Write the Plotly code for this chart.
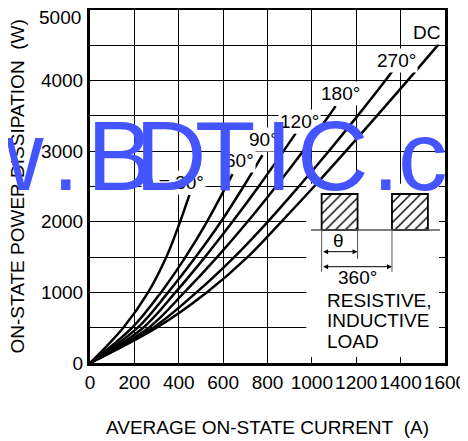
import plotly.graph_objects as go

# ---- data ----
curve_labels = ["θ = 30°", "60°", "90°", "120°", "180°", "270°", "DC"]

I_30 = [0, 150, 262, 344, 406, 448]
P_30 = [0, 500, 1000, 1500, 2000, 2380]

I_60 = [0, 190, 320, 430, 527, 613, 642]
P_60 = [0, 500, 1000, 1500, 2000, 2500, 2676]

I_90 = [0, 215, 352, 476, 590, 692, 777]
P_90 = [0, 500, 1000, 1500, 2000, 2500, 2945]

I_120 = [0, 240, 385, 518, 642, 760, 872, 927]
P_120 = [0, 500, 1000, 1500, 2000, 2500, 3000, 3252]

I_180 = [0, 265, 425, 573, 710, 838, 960, 1076, 1107]
P_180 = [0, 500, 1000, 1500, 2000, 2500, 3000, 3500, 3639]

I_270 = [0, 285, 480, 650, 801, 941, 1076, 1206, 1331, 1364]
P_270 = [0, 500, 1000, 1500, 2000, 2500, 3000, 3500, 4000, 4139]

I_DC = [0, 300, 526, 710, 862, 1010, 1153, 1293, 1431, 1572]
P_DC = [0, 500, 1000, 1500, 2000, 2500, 3000, 3500, 4000, 4517]

label_x = [525, 672, 780, 946, 1127, 1380, 1518]
label_y = [2563, 2874, 3172, 3417, 3823, 4290, 4677]

x_ticks = [0, 200, 400, 600, 800, 1000, 1200, 1400, 1600]
y_ticks = [0, 500, 1000, 1500, 2000, 2500, 3000, 3500, 4000, 4500, 5000]
y_ticktext = ["0", "", "1000", "", "2000", "", "3000", "", "4000", "", ""]
y_top_label = "5000"

FONT = "Liberation Sans, Arial, sans-serif"
FS = 19

fig = go.Figure()

# white panel behind the inset (hides grid only)
fig.add_shape(type="rect", xref="x", yref="y", x0=975, x1=1600, y0=0, y1=2540,
              fillcolor="white", line=dict(width=0), layer="between")

series = [(I_30, P_30), (I_60, P_60), (I_90, P_90), (I_120, P_120),
          (I_180, P_180), (I_270, P_270), (I_DC, P_DC)]
for xs, ys in series:
    fig.add_trace(go.Scatter(x=xs, y=ys, mode="lines",
                             line=dict(color="black", width=2.5, shape="spline", smoothing=1.0),
                             hoverinfo="skip"))

# inset waveform: hatched pulses
pulse_x0 = [1044, 1361]
pulse_w = 162
pulse_base = 1884
pulse_top = 2394
for x0 in pulse_x0:
    fig.add_trace(go.Scatter(
        x=[x0, x0 + pulse_w, x0 + pulse_w, x0, x0],
        y=[pulse_base, pulse_base, pulse_top, pulse_top, pulse_base],
        mode="lines", fill="toself",
        fillcolor="white",
        fillpattern=dict(shape="/", fgcolor="black", bgcolor="white", size=7, solidity=0.2),
        line=dict(color="black", width=1.8), hoverinfo="skip"))

# baseline and dimension lines
fig.add_shape(type="line", xref="x", yref="y", x0=996, x1=1577, y0=pulse_base, y1=pulse_base,
              line=dict(color="#555555", width=1.6), layer="above")
for xv, ylow in [(1044, 1293), (1206, 1473), (1361, 1293)]:
    fig.add_shape(type="line", xref="x", yref="y", x0=xv, x1=xv, y0=ylow, y1=pulse_base,
                  line=dict(color="#555555", width=1), layer="above")

annotations = []
# dimension arrows
for (xa, xb, yv) in [(1044, 1206, 1577), (1044, 1361, 1364)]:
    annotations.append(dict(x=xb, y=yv, ax=xa, ay=yv, xref="x", yref="y", axref="x", ayref="y",
                            text="", showarrow=True, arrowhead=2, startarrowhead=2,
                            arrowside="end+start", arrowsize=1, startarrowsize=1,
                            arrowwidth=1, arrowcolor="black", standoff=0, startstandoff=0))

annotations.append(dict(x=1122, y=1732, xref="x", yref="y", text="θ", showarrow=False,
                        font=dict(family=FONT, size=FS, color="black")))
annotations.append(dict(x=1206, y=1208, xref="x", yref="y", text="360°", showarrow=False,
                        font=dict(family=FONT, size=FS, color="black")))
for txt, yv in [("RESISTIVE,", 892), ("INDUCTIVE", 609), ("LOAD", 302)]:
    annotations.append(dict(x=1058, y=yv, xref="x", yref="y", text=txt, showarrow=False,
                            xanchor="left", font=dict(family=FONT, size=FS, color="black")))

# curve labels with white background
for i, (txt, lx, ly) in enumerate(zip(curve_labels, label_x, label_y)):
    annotations.append(dict(x=lx, y=ly, xref="x", yref="y", text=txt, showarrow=False,
                            xanchor="right" if i == 0 else "center",
                            bgcolor="white", borderpad=1,
                            font=dict(family=FONT, size=FS, color="black")))

# top y tick label (kept inside the page)
annotations.append(dict(x=-0.0225, y=0.980, xref="paper", yref="paper", text=y_top_label,
                        showarrow=False, xanchor="right", yanchor="middle", borderpad=0,
                        font=dict(family=FONT, size=FS, color="black")))

# axis titles
annotations.append(dict(x=0.5, y=-0.184, xref="paper", yref="paper",
                        xanchor="center", yanchor="middle",
                        text="AVERAGE ON-STATE CURRENT\u00a0\u00a0(A)", showarrow=False,
                        font=dict(family=FONT, size=FS, color="black")))
annotations.append(dict(x=-0.2056, y=0.5, xref="paper", yref="paper", textangle=-90,
                        xanchor="center", yanchor="middle",
                        text="ON-STATE POWER DISSIPATION\u00a0\u00a0(W)", showarrow=False,
                        font=dict(family=FONT, size=FS, color="black")))

# watermark
wm_letters = ["w", ".", "B", "D", "T", "I", "C", ".", "c"]
wm_x = [-0.231, -0.0676, 0.0845, 0.2268, 0.3803, 0.5324, 0.6859, 0.8338, 0.938]
for ch, xp in zip(wm_letters, wm_x):
    annotations.append(dict(x=xp, y=0.5885, xref="paper", yref="paper", text=ch, showarrow=False,
                            xanchor="center", yanchor="middle",
                            font=dict(family="Liberation Sans, Arial", size=99, color="#4455ff")))

fig.update_layout(
    template="none",
    width=460, height=433,
    margin=dict(l=82, r=23, t=2, b=78, pad=0),
    paper_bgcolor="white", plot_bgcolor="white",
    showlegend=False,
    annotations=annotations,
    font=dict(family=FONT, size=FS, color="black"),
)
fig.update_xaxes(range=[0, 1600], tickmode="array", tickvals=x_ticks, automargin=False,
                 ticktext=[str(v) for v in x_ticks], tickangle=0,
                 ticks="inside", ticklen=6, tickwidth=1, tickcolor="black",
                 showgrid=True, gridcolor="black", gridwidth=1,
                 showline=True, linewidth=3, linecolor="black", mirror="ticks",
                 zeroline=False, tickfont=dict(family=FONT, size=FS, color="black"))
fig.update_yaxes(range=[0, 5000], tickmode="array", tickvals=y_ticks, ticktext=y_ticktext,
                 automargin=False,
                 ticks="inside", ticklen=6, tickwidth=1, tickcolor="black",
                 showgrid=True, gridcolor="black", gridwidth=1,
                 showline=True, linewidth=3, linecolor="black", mirror="ticks",
                 zeroline=False, tickfont=dict(family=FONT, size=FS, color="black"))

fig.write_html("out.html")
